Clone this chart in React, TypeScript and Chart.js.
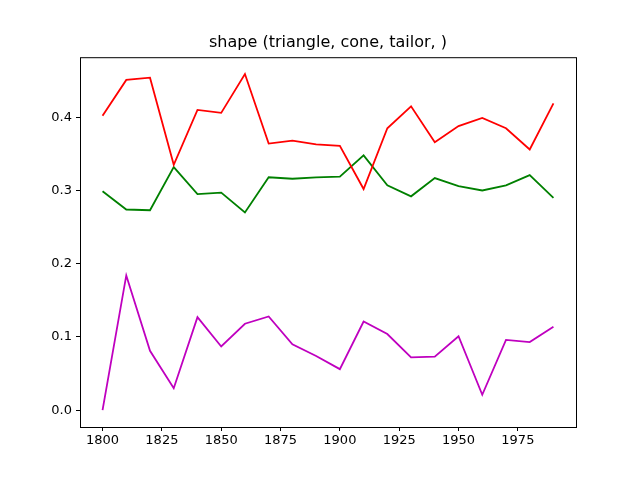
import React, { useEffect, useRef } from 'react';
import { Chart, registerables } from 'chart.js';

Chart.register(...registerables);

const years = [1800, 1810, 1820, 1830, 1840, 1850, 1860, 1870, 1880, 1890, 1900, 1910, 1920, 1930, 1940, 1950, 1960, 1970, 1980, 1990];
const redValues = [0.402, 0.451, 0.454, 0.335, 0.410, 0.406, 0.459, 0.364, 0.368, 0.363, 0.361, 0.302, 0.385, 0.415, 0.366, 0.388, 0.399, 0.385, 0.356, 0.419];
const greenValues = [0.299, 0.274, 0.273, 0.332, 0.295, 0.297, 0.270, 0.318, 0.316, 0.318, 0.319, 0.348, 0.307, 0.292, 0.317, 0.306, 0.300, 0.307, 0.321, 0.290];
const magentaValues = [0.0, 0.184, 0.081, 0.030, 0.127, 0.087, 0.118, 0.128, 0.090, 0.074, 0.056, 0.121, 0.104, 0.072, 0.073, 0.101, 0.021, 0.096, 0.093, 0.114];
const xTicks = [1800, 1825, 1850, 1875, 1900, 1925, 1950, 1975];
const yTicks = [0.0, 0.1, 0.2, 0.3, 0.4];
const titleText = 'shape (triangle, cone, tailor, )';

// frame around the plot and the title centred over the plot area
const frame = {
  id: 'frame',
  afterDraw(chart: Chart) {
    const { ctx, chartArea: a } = chart;
    ctx.save();
    ctx.strokeStyle = '#000';
    ctx.lineWidth = 1;
    ctx.strokeRect(a.left + 0.5, a.top + 0.5, a.right - a.left, a.bottom - a.top);
    ctx.fillStyle = '#000';
    ctx.font = '16px "DejaVu Sans"';
    ctx.textAlign = 'center';
    ctx.textBaseline = 'middle';
    ctx.fillText(titleText, (a.left + a.right) / 2, 43);
    ctx.restore();
  }
};

const App: React.FC = () => {
  const ref = useRef<HTMLCanvasElement>(null);

  useEffect(() => {
    if (!ref.current) return;
    const mk = (data: number[], color: string) => ({
      data: years.map((y, i) => ({ x: y, y: data[i] })),
      borderColor: color,
      backgroundColor: color,
      borderWidth: 1.8,
      pointRadius: 0,
      tension: 0
    });
    const tickFont = { family: 'DejaVu Sans', size: 13 };
    const chart = new Chart(ref.current, {
      type: 'line',
      data: { datasets: [mk(redValues, '#ff0000'), mk(greenValues, '#008000'), mk(magentaValues, '#bf00bf')] },
      plugins: [frame],
      options: {
        animation: false,
        responsive: false,
        layout: { padding: { right: 64, left: 0, top: 0, bottom: 0 } },
        plugins: {
          legend: { display: false },
          tooltip: { enabled: false },
          title: {
            display: true,
            text: titleText,
            color: 'rgba(0,0,0,0)',
            font: { family: 'DejaVu Sans', size: 16, weight: 'normal' },
            padding: { top: 31, bottom: 7 }
          }
        },
        scales: {
          x: {
            type: 'linear',
            min: 1790.5,
            max: 1999.5,
            afterBuildTicks: (s: any) => { s.ticks = xTicks.map(v => ({ value: v })); },
            afterFit: (s: any) => { s.height = 53; },
            ticks: { color: '#000', font: tickFont, maxRotation: 0, callback: (v: any) => String(v), padding: 2 },
            grid: { drawOnChartArea: false, color: '#000', tickLength: 4 },
            border: { display: false }
          },
          y: {
            min: -0.023,
            max: 0.482,
            afterBuildTicks: (s: any) => { s.ticks = yTicks.map(v => ({ value: v })); },
            afterFit: (s: any) => { s.width = 80; },
            ticks: { color: '#000', font: tickFont, callback: (v: any) => Number(v).toFixed(1), padding: 4 },
            grid: { drawOnChartArea: false, color: '#000', tickLength: 4 },
            border: { display: false }
          }
        }
      }
    });
    return () => chart.destroy();
  }, []);

  return <canvas ref={ref} width={640} height={480} style={{ display: 'block', position: 'absolute', left: 0, top: 0 }} />;
};

export default App;
